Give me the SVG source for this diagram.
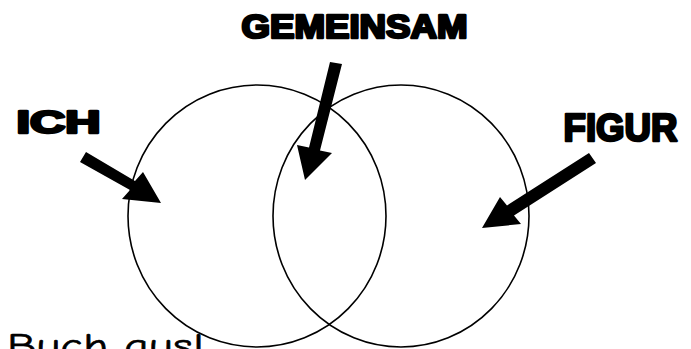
<svg xmlns="http://www.w3.org/2000/svg" width="691" height="349" viewBox="0 0 691 349">
<style>
.ring{fill:none;stroke:#000;stroke-width:1.6}
.lbl{font-family:"Liberation Sans",Arial,sans-serif;font-weight:bold;fill:#000;stroke:#000;stroke-width:2.6;stroke-linejoin:round}
.arrow{fill:#000;stroke:none}
.hand{font-family:"Comic Sans MS","Comic Neue","DejaVu Sans",sans-serif;fill:#000;stroke:#000;stroke-width:0.6}
</style>
<rect width="691" height="349" fill="#fff"/>
<g id="circle-ich"><ellipse class="ring" cx="257" cy="216" rx="129" ry="131"/></g>
<g id="circle-figur"><ellipse class="ring" cx="401" cy="216" rx="128" ry="131"/></g>
<g id="label-gemeinsam"><text class="lbl" x="241.5" y="38" font-size="32.5" textLength="226" lengthAdjust="spacingAndGlyphs">GEMEINSAM</text></g>
<g id="label-ich"><text class="lbl" x="16.5" y="133" font-size="31.5" textLength="84" lengthAdjust="spacingAndGlyphs">ICH</text></g>
<g id="label-figur"><text class="lbl" x="563.5" y="141" font-size="38.5" textLength="114" lengthAdjust="spacingAndGlyphs">FIGUR</text></g>
<g id="note"><text class="hand" x="7" y="357" font-size="34" textLength="197" lengthAdjust="spacingAndGlyphs">Buch aus!</text></g>
<g id="connectors">
<polygon class="arrow" points="86,152 135,181 143,172 161,203 122,199 130,190 80,162"/>
<polygon class="arrow" points="330,62 342,64 320,150.5 332,153 305,180 297,145 309,147.5"/>
<polygon class="arrow" points="589,153 596,163 514,215.6 521,224 482,228 500,197 507,205.4"/>
</g>
</svg>
